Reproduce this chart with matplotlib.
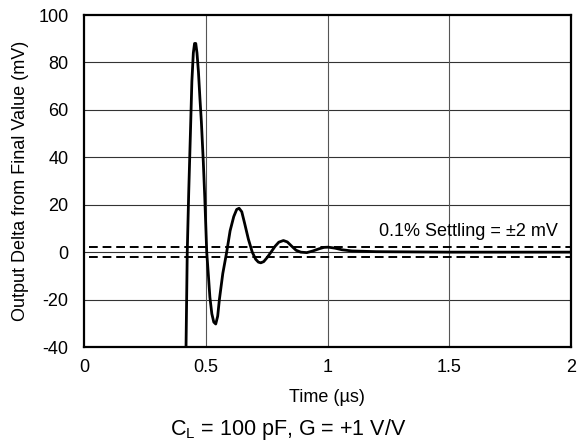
import numpy as np
import matplotlib

matplotlib.use("Agg")
import matplotlib.pyplot as plt

plt.rcParams["font.family"] = ["Liberation Sans", "DejaVu Sans"]
plt.rcParams["axes.unicode_minus"] = False

# settling waveform (time in us, delta in mV)
time_us = [0.416, 0.419, 0.424, 0.430, 0.437, 0.443, 0.449, 0.454, 0.459, 0.464,
           0.470, 0.476, 0.482, 0.490, 0.496, 0.504, 0.511, 0.517, 0.525, 0.533,
           0.541, 0.549, 0.556, 0.570, 0.586, 0.600, 0.615, 0.627, 0.637, 0.648,
           0.660, 0.675, 0.691, 0.705, 0.716, 0.726, 0.738, 0.752, 0.768, 0.785,
           0.800, 0.819, 0.835, 0.852, 0.871, 0.890, 0.915, 0.940, 0.965, 0.985,
           1.003, 1.030, 1.060, 1.100, 1.200, 1.500, 2.000]
delta_mv = [-50, -40, 0, 25, 50, 72, 84, 88, 88, 84,
            76, 65, 55, 38, 23, 0, -10, -19, -26, -29.5,
            -30.3, -27, -20, -9, 0, 9, 15, 18, 18.5, 17,
            12, 5.5, 0, -3, -4.2, -4.5, -4, -2.3, 0, 2.5,
            4.2, 4.9, 4.3, 2.6, 0.8, 0, -0.2, 0.5, 1.4, 2.0,
            2.1, 1.7, 1.0, 0.5, 0.2, 0.0, 0.0]

settle_band = [2, -2]
x_ticks = [0, 0.5, 1, 1.5, 2]
x_tick_labels = ["0", "0.5", "1", "1.5", "2"]
y_ticks = [-40, -20, 0, 20, 40, 60, 80, 100]

W, H = 577, 443
fig = plt.figure(figsize=(W / 100, H / 100), dpi=100)
ax = fig.add_axes([84 / W, 1 - 347 / H, 487 / W, 332 / H])

for yt in y_ticks[1:-1]:
    ax.axhline(yt, color="#333333", lw=0.8, zorder=1)
for xt in x_ticks[1:-1]:
    ax.axvline(xt, color="#555555", lw=0.8, zorder=1)

for lvl in settle_band:
    ax.axhline(lvl, xmin=0.01, xmax=1.0, color="black", lw=1.4,
               ls=(0, (4.5, 2.5)), zorder=2)

ax.plot(time_us, delta_mv, color="black", lw=2.0, zorder=3)

ax.text(1.945, 8.5, "0.1% Settling = \u00b12 mV", ha="right", va="center", fontsize=13)

ax.set_xlim(0, 2)
ax.set_ylim(-40, 100)
ax.set_xticks(x_ticks)
ax.set_xticklabels(x_tick_labels)
ax.set_yticks(y_ticks)
ax.tick_params(axis="y", length=0, labelsize=13, pad=11)
ax.tick_params(axis="x", length=0, labelsize=13, pad=9)
for s in ax.spines.values():
    s.set_linewidth(1.6)

fig.text(327 / W, 1 - 398 / H, "Time (\u00b5s)", ha="center", va="center", fontsize=13)
fig.text(21 / W, 1 - 181 / H, "Output Delta from Final Value (mV)", ha="center",
         va="center", rotation=90, fontsize=13)
fig.text(0.5, 1 - 430 / H, r"C$_\mathregular{L}$ = 100 pF, G = +1 V/V", ha="center",
         va="center", fontsize=15.5)

fig.savefig("out.png", dpi=100)
